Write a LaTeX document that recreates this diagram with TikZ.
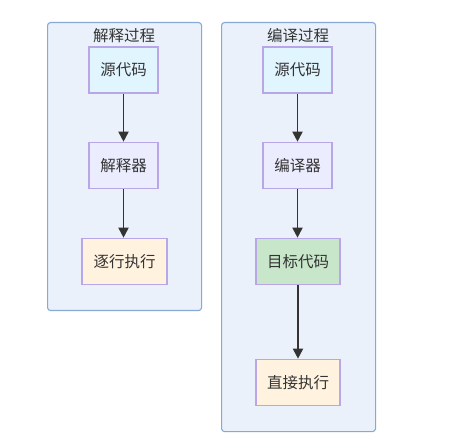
\documentclass[tikz,border=0pt]{standalone}
\usepackage{fontspec}
\setmainfont{Noto Sans CJK SC}
\usetikzlibrary{arrows.meta}
\definecolor{srcfill}{HTML}{E1F5FE}
\definecolor{procfill}{HTML}{ECECFF}
\definecolor{execfill}{HTML}{FFF3E0}
\definecolor{tgtfill}{HTML}{C8E6C9}
\definecolor{nodeline}{HTML}{B8A6E6}
\definecolor{clfill}{HTML}{EAF1FB}
\definecolor{clline}{HTML}{86A9D6}
\definecolor{txt}{HTML}{333333}
\tikzset{
  box/.style={draw=nodeline, line width=1.6pt, minimum height=46pt, text=txt, font=\fontsize{15.5}{18}\selectfont, inner sep=0pt},
  cluster/.style={draw=clline, fill=clfill, line width=1.1pt, rounded corners=3pt},
  ttl/.style={text=txt, font=\fontsize{15.5}{18}\selectfont},
  conn/.style={draw=txt, line width=1.8pt, -{Triangle[length=10pt,width=10pt]}}
}
\begin{document}
\begin{tikzpicture}[x=1pt,y=-1pt]
\useasboundingbox (0,0) rectangle (450,446);
\fill[white] (0,0) rectangle (450,446);
\node[cluster, minimum width=154pt, minimum height=288pt, anchor=north west] (c1) at (47,22) {};
\node[cluster, minimum width=154pt, minimum height=409pt, anchor=north west] (c2) at (221,22) {};
\node[ttl] (t1) at (124,35.5) {解释过程};
\node[ttl] (t2) at (298,35.5) {编译过程};
\node[box, fill=srcfill, minimum width=69pt] (s1) at (123.5,70) {源代码};
\node[box, fill=procfill, minimum width=69pt] (p1) at (123.5,165.5) {解释器};
\node[box, fill=execfill, minimum width=85pt] (e1) at (124.5,261.5) {逐行执行};
\node[box, fill=srcfill, minimum width=69pt] (s2) at (297.5,70) {源代码};
\node[box, fill=procfill, minimum width=69pt] (p2) at (297.5,165.5) {编译器};
\node[box, fill=tgtfill, minimum width=84pt] (g2) at (298,261.5) {目标代码};
\node[box, fill=execfill, minimum width=84pt] (e2) at (298,382.5) {直接执行};
\draw[conn] (s1.south) -- (p1.north);
\draw[conn] (p1.south) -- (p1.south |- e1.north);
\draw[conn] (s2.south) -- (p2.north);
\draw[conn] (p2.south) -- (p2.south |- g2.north);
\draw[conn] (g2.south) -- (e2.north);
\end{tikzpicture}
\end{document}
